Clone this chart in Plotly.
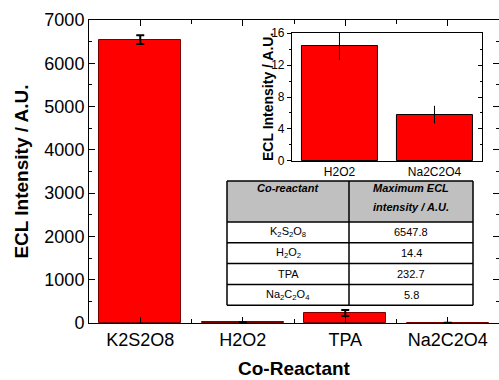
import plotly.graph_objects as go

# ---- data ----
categories = ["K2S2O8", "H2O2", "TPA", "Na2C2O4"]
intensity = [6547.8, 14.4, 232.7, 5.8]
intensity_err = [100, 1.8, 70, 1.1]

inset_categories = ["H2O2", "Na2C2O4"]
inset_values = [14.4, 5.8]
inset_err = [1.8, 1.1]

table_header_col1 = ["Co-reactant"]
table_header_col2 = ["Maximum ECL", "intensity / A.U."]
table_reactants = ["K<sub>2</sub>S<sub>2</sub>O<sub>8</sub>", "H<sub>2</sub>O<sub>2</sub>", "TPA",
                   "Na<sub>2</sub>C<sub>2</sub>O<sub>4</sub>"]
table_values = ["6547.8", "14.4", "232.7", "5.8"]

FONT = "Liberation Sans, Arial, Helvetica, sans-serif"
RED = "#ff0000"
EDGE = "#7a0000"

fig = go.Figure()

fig.add_trace(go.Bar(
    x=list(range(len(categories))), y=intensity, width=0.8,
    marker=dict(color=RED, line=dict(color=EDGE, width=1)),
    error_y=dict(type="data", array=intensity_err, color="black", thickness=2, width=4),
    xaxis="x", yaxis="y", showlegend=False,
))

fig.add_trace(go.Bar(
    x=list(range(len(inset_categories))), y=inset_values, width=0.8,
    marker=dict(color=RED, line=dict(color="black", width=1)),
    error_y=dict(type="data", array=inset_err, color="black", thickness=1, width=0),
    xaxis="x2", yaxis="y2", showlegend=False,
))

axis_common = dict(showline=True, linecolor="black", linewidth=1, showgrid=False, zeroline=False,
                   tickcolor="black")

fig.update_layout(
    width=499, height=380,
    margin=dict(l=89, r=0, t=20, b=57),
    plot_bgcolor="white", paper_bgcolor="white",
    font=dict(family=FONT, color="black"),
    bargap=0,
    xaxis=dict(**axis_common, range=[-0.5, 3.5], tickvals=list(range(len(categories))), ticktext=categories,
               ticks="inside", ticklen=6, mirror="ticks",
               minor=dict(dtick=0.5, tick0=0.5, ticks="inside", ticklen=4, tickcolor="black"),
               tickfont=dict(size=18),
               title=dict(text="<b>Co-Reactant</b>", font=dict(size=19), standoff=13)),
    yaxis=dict(**axis_common, range=[0, 7000], dtick=1000, ticks="inside", ticklen=6, mirror="ticks",
               minor=dict(dtick=500, ticks="inside", ticklen=3, tickcolor="black"),
               tickfont=dict(size=18),
               title=dict(text="<b>ECL Intensity / A.U.</b>", font=dict(size=19), standoff=10)),
    xaxis2=dict(**axis_common, domain=[0.495, 0.9585], anchor="y2", range=[-0.5, 1.5],
                tickvals=list(range(len(inset_categories))), ticktext=inset_categories,
                ticks="", mirror=True, tickfont=dict(size=12)),
    yaxis2=dict(**axis_common, domain=[0.5347, 0.957], anchor="x2", range=[0, 16], dtick=4,
                ticks="outside", ticklen=4, mirror=False,
                minor=dict(dtick=2, ticks="outside", ticklen=2, tickcolor="black"),
                tickfont=dict(size=12)),
    yaxis3=dict(**axis_common, overlaying="y2", side="right", anchor="x2", range=[0, 16], dtick=4,
                ticks="inside", ticklen=4, showticklabels=False,
                minor=dict(dtick=2, ticks="inside", ticklen=2, tickcolor="black")),
)

# dummy invisible trace to activate yaxis3
fig.add_trace(go.Scatter(x=[0], y=[0], xaxis="x2", yaxis="y3", mode="markers",
                         marker=dict(opacity=0), showlegend=False, hoverinfo="skip"))

# ---- table drawn with shapes/annotations (pixel -> paper helpers) ----
PL, PR, PT, PB = 89, 499, 20, 323


def px(x):
    return (x - PL) / (PR - PL)


def py(y):
    return (PB - y) / (PB - PT)


t_left, t_mid, t_right = 227, 349, 473
t_top, head_h, row_h = 181, 41, 20.8
head_line_h = 19.5
n_rows = len(table_reactants)
t_bottom = t_top + head_h + row_h * n_rows

shapes = []
shapes.append(dict(type="rect", xref="paper", yref="paper", x0=px(t_left), x1=px(t_right),
                   y0=py(t_top + head_h), y1=py(t_top), fillcolor="#c0c0c0", line=dict(width=0), layer="above"))
shapes.append(dict(type="rect", xref="paper", yref="paper", x0=px(t_left), x1=px(t_right),
                   y0=py(t_bottom), y1=py(t_top + head_h), fillcolor="white", line=dict(width=0), layer="above"))
ys = [t_top, t_top + head_h] + [t_top + head_h + row_h * (i + 1) for i in range(n_rows)]
for yy in ys:
    shapes.append(dict(type="line", xref="paper", yref="paper", x0=px(t_left), x1=px(t_right),
                       y0=py(yy), y1=py(yy), line=dict(color="black", width=1.5), layer="above"))
for xx in (t_left, t_mid, t_right):
    shapes.append(dict(type="line", xref="paper", yref="paper", x0=px(xx), x1=px(xx),
                       y0=py(t_top), y1=py(t_bottom), line=dict(color="black", width=1.5), layer="above"))

annotations = []
c1 = px((t_left + t_mid) / 2)
c2 = px((t_mid + t_right) / 2)
for col, lines in ((c1, table_header_col1), (c2, table_header_col2)):
    for j, line in enumerate(lines):
        annotations.append(dict(text="<b><i>" + line + "</i></b>", x=col,
                                y=py(t_top + 6.5 + head_line_h * j), xref="paper", yref="paper",
                                xanchor="center", yanchor="middle", showarrow=False, font=dict(size=11)))
for i, (r, v) in enumerate(zip(table_reactants, table_values)):
    yc = py(t_top + head_h + row_h * (i + 0.5))
    annotations.append(dict(text=r, x=c1, y=yc, xref="paper", yref="paper", xanchor="center",
                            yanchor="middle", showarrow=False, font=dict(size=11)))
    annotations.append(dict(text=v, x=c2, y=yc, xref="paper", yref="paper", xanchor="center",
                            yanchor="middle", showarrow=False, font=dict(size=11)))

# inset y-axis title
annotations.append(dict(text="<b>ECL Intensity / A.U.</b>", x=px(268), y=py(97), xref="paper", yref="paper",
                        xanchor="center", yanchor="middle", textangle=-90, showarrow=False,
                        font=dict(size=14)))

fig.update_layout(shapes=shapes, annotations=annotations)

fig.write_html("out.html")
